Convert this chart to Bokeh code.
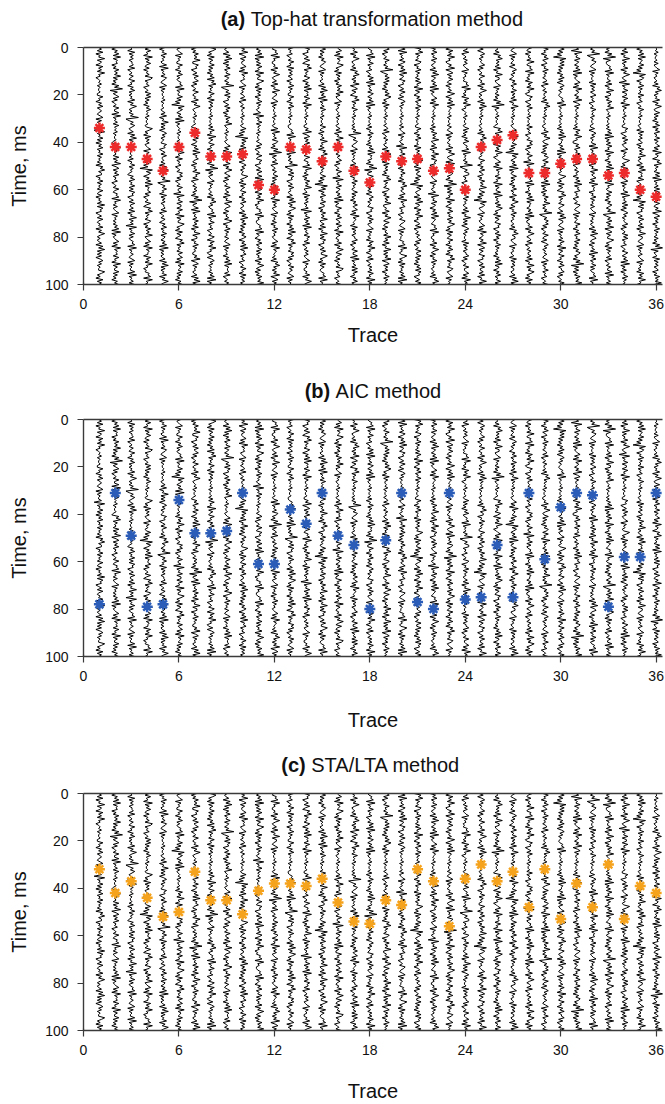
import numpy as np
from bokeh.plotting import figure
from bokeh.layouts import column
from bokeh.models import Range1d, LinearAxis, FixedTicker
from bokeh.core.properties import value
from bokeh.embed import file_html
from bokeh.resources import INLINE

trace_ids = list(range(1, 37))
picks_tophat = [34, 42, 42, 47, 52, 42, 36, 46, 46, 45, 58, 60, 42, 43, 48, 42, 52, 57,
                46, 48, 47, 52, 51, 60, 42, 39, 37, 53, 53, 49, 47, 47, 54, 53, 60, 63]
picks_aic = [78, 31, 49, 79, 78, 34, 48, 48, 47, 31, 61, 61, 38, 44, 31, 49, 53, 80,
             51, 31, 77, 80, 31, 76, 75, 53, 75, 31, 59, 37, 31, 32, 79, 58, 58, 31]
picks_stalta = [32, 42, 37, 44, 52, 50, 33, 45, 45, 51, 41, 38, 38, 39, 36, 46, 54, 55,
                45, 47, 32, 37, 56, 36, 30, 37, 33, 48, 32, 53, 38, 48, 30, 53, 39, 42]
x_ticks = [0, 6, 12, 18, 24, 30, 36]
y_ticks = [0, 20, 40, 60, 80, 100]

# amplitude level codes (0-9), one string per trace, 150 samples over 0-100 ms
trace_codes = [
    "4637254836 5274638452 4546354453 3745264735 6435726354 4618354736 2647354736 4536275846 6254736453 7436254638 3756246374 3547264853 5346274836 3625746354 4863527364",
    "5264738365 6253746483 6352749163 5736245374 4728354637 4546354453 2758364537 3648257364 7354624537 4365728453 6345726453 5364728253 4573628465 6374528364 4736352647",
    "4527364635 5637245364 3745264735 3547264853 5364913647 5346274836 4546354453 6254736453 2647354736 3756246374 4637254836 4618354736 3465728354 6435726354 4728354637",
    "6374528364 7436254638 7354624537 4736352647 4546354453 4863527364 6345726453 4736250847 5264738365 5736245374 2758364537 6253746483 4573628465 5274638452 4365728453",
    "6254736453 4728354637 6435726354 4546354453 4637254836 3625746354 3756246374 4536275846 5364913647 4527364635 5637245364 2647354736 5364728253 5346274836 3547264853",
    "6345726453 3745264735 3465728354 4736250847 5364728253 4546354453 5274638452 7354624537 5736245374 4618354736 6374528364 4863527364 2758364537 4573628465 4736352647",
    "6253746483 3756246374 5736245374 3547264853 4546354453 2647354736 5264738365 7436254638 5637245364 6352749163 4728354637 4637254836 6254736453 3648257364 5346274836",
    "4863527364 4736352647 2758364537 4527364635 4546354453 6374528364 3745264735 6352749163 6345726453 4536275846 3465728354 7354624537 5274638452 3625746354 5364728253",
    "5346274836 2647354736 5364913647 3756246374 6253746483 4546354453 4573628465 3547264853 5736245374 4637254836 7436254638 6254736453 6435726354 5264738365 5637245364",
    "3648257364 4573628465 6345726453 5637245364 4546354453 4736250847 4637254836 3625746354 4863527364 3745264735 5346274836 4736352647 5264738365 7354624537 4527364635",
    "5364728253 6374528364 4863527364 6254736453 4618354736 4546354453 5736245374 3756246374 4728354637 5274638452 4365728453 3465728354 2647354736 3547264853 6253746483",
    "4365728453 3547264853 4637254836 6435726354 4546354453 4728354637 6352749163 5637245364 4736352647 6374528364 6345726453 6254736453 4573628465 4536275846 3648257364",
    "7354624537 4527364635 6254736453 3745264735 4546354453 3465728354 5364728253 5364913647 3756246374 5346274836 4863527364 5264738365 2758364537 5736245374 6435726354",
    "3756246374 2758364537 5264738365 6374528364 4546354453 3648257364 7354624537 4365728453 6253746483 4527364635 4618354736 4728354637 5637245364 6345726453 3547264853",
    "4736352647 6435726354 5346274836 4728354637 4546354453 7436254638 4536275846 6254736453 4736250847 2647354736 6253746483 4637254836 3756246374 4863527364 3465728354",
    "4573628465 4863527364 6253746483 6345726453 4546354453 4637254836 5637245364 5736245374 4618354736 5364728253 3745264735 6374528364 3547264853 7436254638 7354624537",
    "3547264853 4536275846 3648257364 2758364537 4546354453 5364913647 6435726354 5346274836 6254736453 4736352647 4573628465 4527364635 5736245374 4728354637 3745264735",
    "3465728354 7354624537 4728354637 5364728253 4546354453 6254736453 5264738365 6352749163 3745264735 3625746354 3756246374 6345726453 5274638452 5637245364 6374528364",
    "5736245374 5364913647 4736352647 4863527364 4546354453 5637245364 5346274836 4527364635 2758364537 6253746483 3547264853 7436254638 4637254836 3648257364 6254736453",
    "4728354637 5264738365 3756246374 3625746354 4546354453 6345726453 4618354736 4736352647 4536275846 4573628465 7354624537 6435726354 4365728453 4863527364 5364728253",
    "2758364537 6254736453 6374528364 2647354736 4546354453 3745264735 4527364635 4863527364 4736250847 5346274836 5274638452 5637245364 5736245374 4736352647 3756246374",
    "2647354736 5346274836 5364728253 4573628465 4546354453 6253746483 4637254836 3756246374 6345726453 4618354736 5264738365 4365728453 3547264853 6254736453 4536275846",
    "5274638452 3648257364 7436254638 5264738365 4546354453 6435726354 3547264853 4728354637 6352749163 6374528364 2647354736 4863527364 3745264735 2758364537 6345726453",
    "5637245364 6345726453 4365728453 5274638452 4546354453 4736352647 3465728354 5364913647 7354624537 6254736453 4637254836 3625746354 4527364635 5736245374 4573628465",
    "3625746354 5736245374 3547264853 5346274836 4546354453 4536275846 6254736453 3745264735 6253746483 4736250847 6345726453 4573628465 3648257364 3756246374 4637254836",
    "4536275846 4637254836 6345726453 6352749163 4546354453 2758364537 5274638452 4573628465 6374528364 4728354637 4863527364 3756246374 6254736453 5264738365 2647354736",
    "6435726354 3625746354 2647354736 4637254836 4546354453 4573628465 4736250847 5364728253 4736352647 3547264853 6254736453 4536275846 6345726453 4527364635 5346274836",
    "7436254638 4365728453 5274638452 3756246374 4546354453 7354624537 5736245374 4618354736 3465728354 5264738365 5364728253 3547264853 5637245364 4637254836 4863527364",
    "3745264735 6254736453 5637245364 4536275846 4546354453 3547264853 4736352647 6374528364 5364728253 6253746483 5364913647 5736245374 3625746354 6435726354 7354624537",
    "4736250847 4736352647 3625746354 3465728354 4546354453 5264738365 5364728253 6345726453 4863527364 2758364537 5346274836 6435726354 6374528364 3745264735 5736245374",
    "4618354736 5364728253 4573628465 3648257364 4546354453 5274638452 2647354736 5637245364 5264738365 7354624537 6435726354 3745264735 4736352647 6352749163 6253746483",
    "5364913647 6435726354 4527364635 7354624537 4546354453 3625746354 4728354637 4637254836 4573628465 6254736453 6345726453 5346274836 7436254638 2647354736 3465728354",
    "6352749163 3465728354 4637254836 6253746483 4546354453 5364728253 6374528364 5264738365 4365728453 4736352647 5364913647 3648257364 4863527364 5637245364 4728354637",
    "4637254836 3547264853 4618354736 6374528364 4546354453 3756246374 6345726453 4863527364 6435726354 4728354637 3625746354 5736245374 7354624537 5364728253 6254736453",
    "5264738365 4736250847 6254736453 7354624537 4546354453 4527364635 6253746483 5346274836 5637245364 4736250847 3756246374 4637254836 6435726354 6345726453 5274638452",
    "4546354453 6345726453 4536275846 3547264853 4736352647 2647354736 4573628465 2758364537 4728354637 3756246374 3648257364 6254736453 6352749163 4527364635 6253746483",
]
# offset (in trace units) for each amplitude code 0-9
code_levels = [-0.45, -0.33, -0.22, -0.13, -0.05, 0.05, 0.13, 0.22, 0.33, 0.45]

FONT = "Liberation Sans"
AXIS_COLOR = "#3a3a3a"
TEXT_COLOR = "#111111"
X_MAX = 36.4


def wiggles():
    lv = np.array(code_levels)
    xs, ys = [], []
    for tr, code in zip(trace_ids, trace_codes):
        d = np.array([int(c) for c in code.replace(" ", "")])
        t = np.linspace(0, 100, len(d))
        xs.append(tr + lv[d])
        ys.append(t)
    return xs, ys


WX, WY = wiggles()


def title_fig(tag, rest, tag_x, rest_x, height=39):
    t = figure(width=665, height=height, x_range=Range1d(0, X_MAX), y_range=Range1d(0, height),
               output_backend="svg", toolbar_location=None, x_axis_type=None, y_axis_type=None,
               min_border_left=83, min_border_right=3, min_border_top=0, min_border_bottom=0)
    t.outline_line_color = None
    t.xgrid.visible = False
    t.ygrid.visible = False
    ty = height - 18
    t.text(x=[tag_x], y=[ty], text=[tag], text_font=value(FONT), text_font_size="20px",
           text_font_style="bold", text_align="right", text_baseline="middle",
           text_color=TEXT_COLOR)
    t.text(x=[rest_x], y=[ty], text=[rest], text_font=value(FONT), text_font_size="20px",
           text_font_style="normal", text_align="left", text_baseline="middle",
           text_color=TEXT_COLOR)
    return t


def panel(picks, color, height, bottom, label_standoff):
    p = figure(width=665, height=height, x_range=Range1d(0, X_MAX), y_range=Range1d(100, 0),
               output_backend="svg", toolbar_location=None,
               min_border_left=83, min_border_right=3, min_border_top=8,
               min_border_bottom=bottom)
    p.xgrid.visible = False
    p.ygrid.visible = False
    p.outline_line_color = None

    p.multi_line(WX, WY, line_color="black", line_width=1.0)
    p.scatter(trace_ids, picks, marker="asterisk", size=11, line_color=color,
              line_width=2.5)

    for ax in (p.xaxis[0], p.yaxis[0]):
        ax.axis_line_color = AXIS_COLOR
        ax.axis_line_width = 1.4
        ax.major_tick_line_color = AXIS_COLOR
        ax.major_tick_line_width = 1.2
        ax.minor_tick_line_color = None
        ax.major_label_text_font = FONT
        ax.major_label_text_font_size = "14px"
        ax.major_label_text_color = TEXT_COLOR
        ax.axis_label_text_font = FONT
        ax.axis_label_text_font_size = "20px"
        ax.axis_label_text_font_style = "normal"
        ax.axis_label_text_color = TEXT_COLOR

    p.xaxis.ticker = FixedTicker(ticks=x_ticks)
    p.xaxis.major_tick_out = 6
    p.xaxis.major_tick_in = 2
    p.xaxis.major_label_standoff = 8
    p.xaxis.axis_label = "Trace"
    p.xaxis.axis_label_standoff = label_standoff

    p.yaxis.ticker = FixedTicker(ticks=y_ticks)
    p.yaxis.major_tick_out = 6
    p.yaxis.major_tick_in = 0
    p.yaxis.major_label_standoff = 9
    p.yaxis.axis_label = "Time, ms"
    p.yaxis.axis_label_standoff = 12

    top = LinearAxis(ticker=FixedTicker(ticks=[]), major_label_text_font_size="0px",
                     axis_line_color=AXIS_COLOR, axis_line_width=1.4,
                     major_tick_line_color=None, minor_tick_line_color=None,
                     major_label_standoff=0, major_tick_out=0, major_tick_in=0)
    p.add_layout(top, "above")
    return p


ta = title_fig("(a)", "Top-hat transformation method", 10.16, 10.51)
pa = panel(picks_tophat, "#ee2b2b", 333, 88, 12)
tb = title_fig("(b)", "AIC method", 15.51, 15.85)
pb = panel(picks_aic, "#2a5cb8", 335, 90, 25)
tc = title_fig("(c)", "STA/LTA method", 13.97, 14.32)
pc = panel(picks_stalta, "#f5a21c", 319, 72, 22)

layout = column(ta, pa, tb, pb, tc, pc, spacing=0)
open("out.html", "w").write(file_html(layout, INLINE))
